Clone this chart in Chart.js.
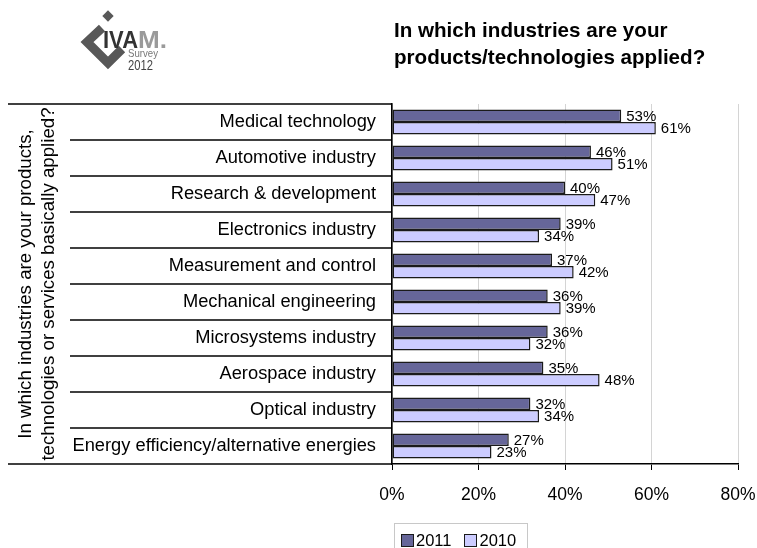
<!DOCTYPE html>
<html>
<head>
<meta charset="utf-8">
<script src="https://cdn.jsdelivr.net/npm/chart.js@4.4.1/dist/chart.umd.min.js"></script>
<style>
  html, body { margin:0; padding:0; background:#fff; }
  #wrap { position:relative; width:757px; height:548px; overflow:hidden; font-family:Arial, 'Liberation Sans', sans-serif; }
  #chart { position:absolute; left:0; top:0; }
  .logo { position:absolute; left:0; top:0; }
  .title { position:absolute; left:394px; top:16px; font-size:20.6px; font-weight:bold; line-height:27px; color:#000; white-space:nowrap; }
  .legend { position:absolute; left:394px; top:523px; width:134px; height:40px; border:1px solid #c8c8c8; box-sizing:border-box;
            display:flex; align-items:flex-start; padding:7px 0 0 6px; font-size:16.5px; color:#000; }
  .legend span { display:flex; align-items:center; margin-right:13px; }
  .legend i { display:inline-block; width:11px; height:11px; border:1px solid #1a1a1a; margin-right:2px; }
</style>
</head>
<body>
<div id="wrap">
  <canvas id="chart" width="757" height="548"></canvas>
  <svg class="logo" width="180" height="80" font-family="Liberation Sans, Arial">
    <polyline points="102,28 87,42 108,63 122,49" fill="none" stroke="#585858" stroke-width="9" stroke-linejoin="miter"/>
    <rect x="104" y="12" width="8" height="8" fill="#585858" transform="rotate(45 108 16)"/>
    <text x="103" y="48" font-weight="bold" font-size="24" fill="#333" textLength="35" lengthAdjust="spacingAndGlyphs">IVA</text>
    <text x="138" y="48" font-weight="bold" font-size="24" fill="#9a9a9a" textLength="29" lengthAdjust="spacingAndGlyphs">M.</text>
    <text x="128" y="57" font-size="11" fill="#777" textLength="30" lengthAdjust="spacingAndGlyphs">Survey</text>
    <text x="128" y="70" font-size="15" fill="#444" textLength="25" lengthAdjust="spacingAndGlyphs">2012</text>
  </svg>
  <div class="title">In which industries are your<br>products/technologies applied?</div>
  <div class="legend" id="legend"></div>
</div>
<script>
const categories = [
  'Medical technology',
  'Automotive industry',
  'Research & development',
  'Electronics industry',
  'Measurement and control',
  'Mechanical engineering',
  'Microsystems industry',
  'Aerospace industry',
  'Optical industry',
  'Energy efficiency/alternative energies'
];
const series = ['2011', '2010'];
const values2011 = [53, 46, 40, 39, 37, 36, 36, 35, 32, 27];
const values2010 = [61, 51, 47, 34, 42, 39, 32, 48, 34, 23];
const xTicks = [0, 20, 40, 60, 80];
const yTitle = ['In which industries are your products,', 'technologies or services basically applied?'];

const FONT = "Arial, 'Liberation Sans', sans-serif";
const COL = { dark: '#666699', light: '#ccccff', edge: '#1a1a1a', grid: '#d4d4d4' };

// value labels right of each bar
const barLabels = {
  id: 'barLabels',
  afterDatasetsDraw(chart) {
    const ctx = chart.ctx;
    ctx.save();
    ctx.font = '15px ' + FONT;
    ctx.fillStyle = '#000';
    ctx.textAlign = 'left';
    ctx.textBaseline = 'middle';
    chart.data.datasets.forEach((ds, di) => {
      chart.getDatasetMeta(di).data.forEach((bar, i) => {
        ctx.fillText(ds.data[i] + '%', bar.x + 5, bar.y + 1);
      });
    });
    ctx.restore();
  }
};

// row separators of the category table on the left
const tableLines = {
  id: 'tableLines',
  afterDraw(chart) {
    const ctx = chart.ctx, y = chart.scales.y, right = chart.chartArea.left;
    ctx.save();
    ctx.strokeStyle = '#000';
    ctx.lineWidth = 1.6;
    for (let i = 0; i <= categories.length; i++) {
      const py = Math.round(y.getPixelForValue(i - 0.5));
      const x0 = (i === 0 || i === categories.length) ? 8 : 70;
      ctx.beginPath();
      ctx.moveTo(x0, py);
      ctx.lineTo(right, py);
      ctx.stroke();
    }
    ctx.restore();
  }
};

const chart = new Chart(document.getElementById('chart'), {
  type: 'bar',
  data: {
    labels: categories,
    datasets: [
      { label: series[0], data: values2011, backgroundColor: COL.dark },
      { label: series[1], data: values2010, backgroundColor: COL.light },
    ].map(d => ({ ...d, borderColor: COL.edge, borderWidth: 1.5, borderSkipped: false,
                  barPercentage: 1, categoryPercentage: 0.7 }))
  },
  options: {
    indexAxis: 'y',
    responsive: false,
    animation: false,
    layout: { padding: { left: 14, top: 104, right: 19, bottom: 0 } },
    plugins: { legend: { display: false }, tooltip: { enabled: false } },
    scales: {
      x: {
        min: xTicks[0], max: xTicks[xTicks.length - 1],
        afterBuildTicks: s => { s.ticks = xTicks.map(v => ({ value: v })); },
        ticks: { color: '#000', font: { size: 17.5, family: FONT }, padding: 15, callback: v => v + '%' },
        grid: { color: COL.grid, lineWidth: 1, tickColor: '#000', tickLength: 6 },
        border: { color: '#000', width: 1.6 },
        // keep the right margin fixed instead of padding for the last label
        afterFit: s => { s.height = 84; s.paddingLeft = 0; s.paddingRight = 0; },
      },
      y: {
        ticks: { color: '#000', font: { size: 18.3, family: FONT }, padding: 16, autoSkip: false },
        grid: { display: false, drawTicks: false },
        border: { color: '#000', width: 1.6 },
        title: { display: true, text: yTitle, color: '#000', font: { size: 18.7, family: FONT, lineHeight: 1.23 }, padding: 0 },
        afterFit: s => { s.width = 378; },
      },
    },
  },
  plugins: [barLabels, tableLines],
});

// legend boxes built from the datasets
document.getElementById('legend').innerHTML = chart.data.datasets
  .map(ds => `<span><i style="background:${ds.backgroundColor}"></i>${ds.label}</span>`).join('');
</script>
</body>
</html>
